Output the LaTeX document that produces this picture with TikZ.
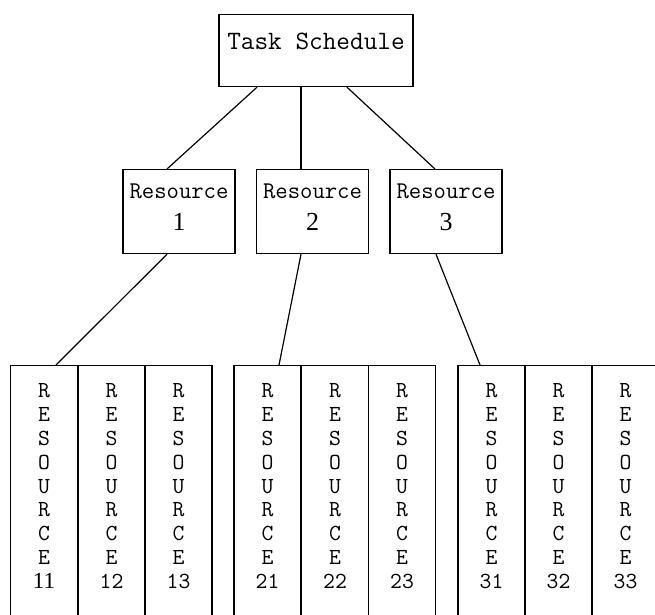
\documentclass[tikz,border=0pt]{standalone}
\usepackage{fontspec}
\newfontfamily\numfont{Liberation Serif}

\tikzstyle{tbox}=[draw,rectangle,inner sep=0pt,anchor=north,font=\ttfamily\fontsize{26.5}{28}\selectfont,minimum width=194pt,text height=35pt,text depth=37pt]
\tikzstyle{rbox}=[draw,rectangle,inner sep=0pt,anchor=north,align=center,font=\ttfamily\fontsize{24}{26}\selectfont,minimum width=112pt,text height=61pt,text depth=23pt]
\tikzstyle{cbox}=[draw,rectangle,inner sep=0pt,anchor=north,align=center,font=\ttfamily\fontsize{23}{23.9}\selectfont,minimum width=67pt,text height=223pt,text depth=60pt]
\tikzstyle{link}=[draw,line width=1.2pt]

\begin{document}
\begin{tikzpicture}[x=1pt,y=-1pt,line width=1.2pt]

        \useasboundingbox (0,0) rectangle (655,614);
        \clip (0,0) rectangle (655,614);

        \draw (316,14) node[tbox](ts){Task Schedule};
        \draw (179,169) node[rbox](r1){Resource\\[6pt]{\numfont\fontsize{26}{26}\selectfont 1}};
        \draw (312.5,169) node[rbox](r2){Resource\\[6pt]{\numfont\fontsize{26}{26}\selectfont 2}};
        \draw (446,169) node[rbox](r3){Resource\\[6pt]{\numfont\fontsize{26}{26}\selectfont 3}};
        \draw (44,365) node[cbox](r11){R\\E\\S\\O\\U\\R\\C\\E\\{\numfont 11}};
        \draw (111.5,365) node[cbox](r12){R\\E\\S\\O\\U\\R\\C\\E\\12};
        \draw (178.5,365) node[cbox](r13){R\\E\\S\\O\\U\\R\\C\\E\\13};
        \draw (267.5,365) node[cbox](r21){R\\E\\S\\O\\U\\R\\C\\E\\21};
        \draw (335,365) node[cbox](r22){R\\E\\S\\O\\U\\R\\C\\E\\22};
        \draw (402,365) node[cbox](r23){R\\E\\S\\O\\U\\R\\C\\E\\23};
        \draw (491.5,365) node[cbox](r31){R\\E\\S\\O\\U\\R\\C\\E\\31};
        \draw (558.5,365) node[cbox](r32){R\\E\\S\\O\\U\\R\\C\\E\\32};
        \draw (625.5,365) node[cbox](r33){R\\E\\S\\O\\U\\R\\C\\E\\33};
        %
        \path
            ([xshift=-59pt]ts.south)    edge[link]  ([xshift=-12pt]r1.north)
            ([xshift=-15pt]ts.south)    edge[link]  ([xshift=-11.5pt]r2.north)
            ([xshift=31pt]ts.south)     edge[link]  ([xshift=-11pt]r3.north)
            ([xshift=-12pt]r1.south)    edge[link]  ([xshift=12pt]r11.north)
            ([xshift=-11.5pt]r2.south)  edge[link]  ([xshift=11.5pt]r21.north)
            ([xshift=-10pt]r3.south)    edge[link]  ([xshift=-11.5pt]r31.north)
        ;
\end{tikzpicture}
\end{document}
